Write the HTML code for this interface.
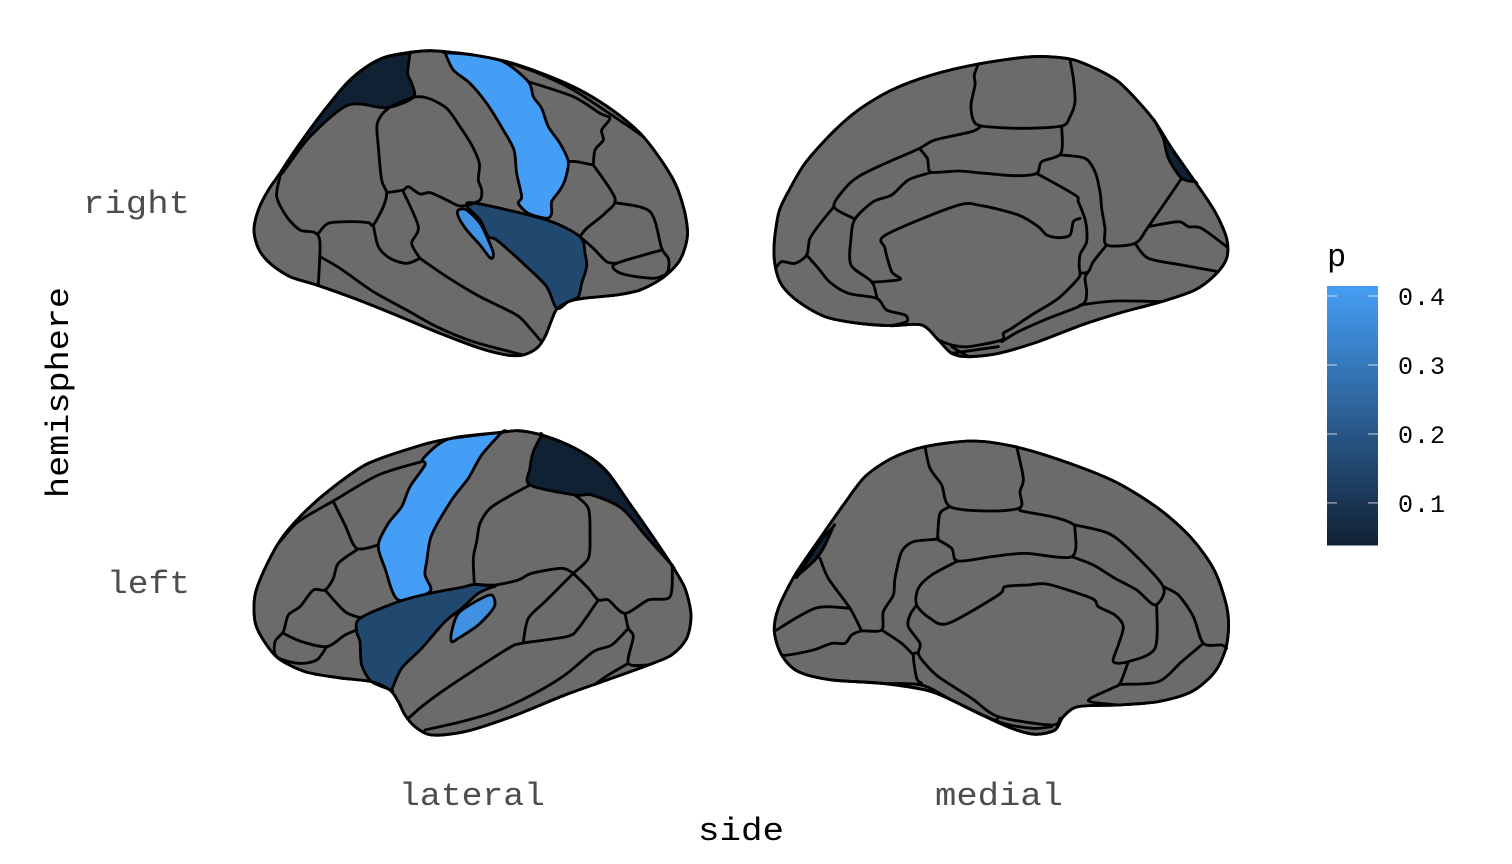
<!DOCTYPE html>
<html>
<head>
<meta charset="utf-8">
<title>Brain atlas p-values</title>
<style>
html,body{margin:0;padding:0;background:#fff;width:1512px;height:864px;overflow:hidden}
svg{display:block}
text{font-family:"Liberation Mono",monospace}
.axis{font-size:32px;fill:#4d4d4d}
.title{font-size:32px;fill:#000}
.leg{font-size:25px;fill:#000}
</style>
</head>
<body>
<svg id="chart" width="1512" height="864" viewBox="0 0 1512 864">
<g id="brains"></g>
<g id="legend"></g>
<text class="axis" x="83" y="213" textLength="107" lengthAdjust="spacingAndGlyphs">right</text>
<text class="axis" x="107" y="593" textLength="83" lengthAdjust="spacingAndGlyphs">left</text>
<text class="axis" x="399" y="805" textLength="146" lengthAdjust="spacingAndGlyphs">lateral</text>
<text class="axis" x="935" y="805" textLength="128" lengthAdjust="spacingAndGlyphs">medial</text>
<text class="title" x="698" y="840" textLength="86" lengthAdjust="spacingAndGlyphs">side</text>
<text class="title" transform="translate(68,498) rotate(-90)" textLength="211" lengthAdjust="spacingAndGlyphs">hemisphere</text>
<text class="title" x="1327" y="266">p</text>
</svg>
<script>
// ---- data ----
const legendTicks = [0.1, 0.2, 0.3, 0.4];
const pDomain = [0.039, 0.4145];
const regionNames = ['superior-parietal', 'precentral', 'supramarginal', 'insula', 'superior-parietal-medial'];
const rightLateralValues = [0.04, 0.4145, 0.155, 0.375];
const rightMedialValues = [0.04];
const leftLateralValues = [0.04, 0.4145, 0.155, 0.375];
const leftMedialValues = [0.04];

// ---- scale ----
const lowColour = [17, 33, 51];
const highColour = [69, 158, 245];
function colourScale(v) {
  const t = (v - pDomain[0]) / (pDomain[1] - pDomain[0]);
  const c = lowColour.map((l, i) => Math.round(l + (highColour[i] - l) * Math.max(0, Math.min(1, t))));
  return 'rgb(' + c.join(',') + ')';
}
const barTop = 286, barBottom = 545, barLeft = 1327, barWidth = 51;
function legendY(v) {
  return barBottom - (v - pDomain[0]) / (pDomain[1] - pDomain[0]) * (barBottom - barTop);
}

// ---- atlas geometry (anatomical outlines, panel units = 1/3 px) ----
const panels = [
 { name: 'right-lateral', ox: 240, oy: 40, values: rightLateralValues, regionIdx: [0, 1, 2, 3],
   outline: '570,32 615,35 700,45 800,65 900,98 1000,140 1080,185 1150,235 1210,290 1270,370 1310,440 1335,520 1342,590 1320,660 1270,712 1200,750 1130,765 1030,775 985,785 950,808 935,840 915,890 890,925 850,945 800,945 720,925 600,880 480,830 350,778 230,735 150,710 90,670 55,625 42,570 55,510 85,450 120,400 180,310 250,215 320,130 380,80 440,50 510,37',
   regions: [
    '510,40 510,40 440,50 380,80 320,130 250,215 180,310 120,400 130,395 210,290 325,195 440,203 520,172 515,130 503,100',
    '615,38 615,38 700,45 790,65 865,125 880,170 905,205 925,260 960,310 985,365 975,420 960,450 935,485 935,520 920,535 865,520 835,490 845,470 830,400 822,330 790,270 740,190 690,130 640,90',
    '680,497 710,490 920,540 1020,590 1035,640 1040,680 1025,730 1015,770 985,785 950,805 920,740 860,680 770,600 745,590 720,540',
    '655,510 680,510 720,550 745,600 760,640 752,655 720,615 680,570 655,530'
   ],
   lines: [
    '120,410 110,470 140,530 180,570 225,578 240,610 235,735',
    '235,580 265,550 330,545 385,548 400,555 430,500 440,458 425,420 415,320 412,250 445,205 520,172 565,175 620,205 660,260 695,315 718,370 715,420 725,450 720,480 680,497',
    '440,458 490,450 505,440 540,462 570,458 620,480 655,497 680,497',
    '400,555 415,620 450,655 500,670 540,655',
    '540,655 515,610 535,560 490,455',
    '240,650 300,685 400,755 500,810 590,860 700,905 850,945',
    '540,655 620,710 720,770 830,825 870,865 900,900',
    '865,125 1000,170 1080,220 1110,235 1085,270 1090,300 1065,330 1060,375',
    '1060,375 1010,365 985,365',
    '1060,375 1125,475 1095,520 1040,565 1020,590',
    '1125,488 1230,515 1265,625 1285,655 1285,690 1270,712',
    '1265,630 1130,670 1125,690 1160,705 1240,715 1275,705',
    '1130,670 1100,665 1060,625 1020,590',
    '800,65 900,102 1000,150 1100,215 1160,255 1210,290'
   ] },
 { name: 'right-medial', ox: 765, oy: 45, values: rightMedialValues, regionIdx: [4],
   outline: '800,35 915,42 990,70 1060,110 1120,170 1170,230 1220,310 1290,410 1350,500 1385,580 1385,640 1350,690 1290,735 1190,770 1060,805 950,840 820,890 700,925 610,935 560,925 520,885 470,840 380,842 280,835 180,815 100,770 50,720 30,660 28,590 42,500 70,440 120,355 200,265 280,195 380,135 500,90 640,57',
   regions: ['1170,230 1170,230 1220,310 1290,410 1290,410 1250,400 1210,340 1195,280'],
   lines: [
    '640,57 628,90 630,120 618,180 625,225 650,243 770,250 890,243 915,215 930,170 925,100 915,45',
    '650,243 620,260 510,285 460,312 350,360 280,395 240,430 207,485 270,522',
    '890,243 888,325 830,350 815,385 750,392 660,385 580,378 500,382 490,360 487,340 465,312',
    '888,330 960,340 990,380 1005,440 1010,490 1020,550 1025,600 1110,595 1150,545 1250,400',
    '1110,595 1150,640 1250,660 1360,680',
    '1150,545 1240,530 1270,545 1310,550 1385,605',
    '1025,600 985,650 970,680 945,680 945,630 965,590 962,530 940,470 930,450 815,385',
    '500,382 430,405 380,450 325,470 270,522 258,580 258,660 320,710 335,755',
    '207,485 170,530 135,580 125,630 90,655 50,650 32,670',
    '125,630 160,670 195,712 250,745 335,760 365,795 420,810 425,830 380,842',
    '320,712 405,703 380,680 360,610 362,570 575,482 650,482 760,510 820,545 845,570 880,578 915,570 925,530 945,520',
    '970,680 960,700 965,745 950,780 850,820 760,860 710,890',
    '945,680 940,700 880,760 800,810 740,850 715,865 710,885 610,905 560,900 520,885',
    '945,780 1050,768 1190,770',
    '560,905 610,935',
    '560,925 700,905'
   ] },
 { name: 'left-lateral', ox: 245, oy: 425, values: leftLateralValues, regionIdx: [0, 1, 2, 3],
   outline: '770,22 820,17 890,30 970,60 1040,100 1090,145 1150,230 1220,330 1280,420 1320,490 1338,570 1325,640 1280,690 1210,720 1100,760 960,810 800,875 660,920 560,930 510,905 480,870 460,830 435,795 380,770 280,758 180,740 100,700 55,645 30,590 30,510 60,430 110,340 180,260 260,190 370,115 530,60 610,42 700,30',
   regions: [
    '890,30 890,30 970,60 1040,100 1090,145 1150,230 1220,330 1280,420 1280,420 1200,330 1130,250 1040,210 990,210 855,180 855,130 865,80',
    '770,22 770,22 610,42 535,100 540,120 495,185 470,245 430,295 400,360 420,430 460,525 555,500 540,450 545,410 560,330 620,225 670,160 710,90',
    '345,580 460,530 555,505 650,487 690,478 745,485 745,485 700,505 650,550 600,590 530,670 470,730 440,795 440,795 380,770 350,720 345,650 335,620',
    '700,525 740,510 748,545 700,600 640,640 620,650 620,620 640,565'
   ],
   lines: [
    '855,180 790,215 735,250 705,295 695,350 685,400 688,478',
    '690,478 750,480 820,465 860,445 950,430 985,445',
    '990,210 1030,250 1035,330 1030,400 985,445 960,470 900,530 850,580 835,650',
    '985,445 1030,490 1060,525 1090,525 1140,565 1210,525 1275,515 1282,420',
    '1060,525 1000,610 965,635 830,655 790,670 680,740 590,800 530,845 490,880',
    '1140,565 1150,610 1165,635 1150,715 1210,720',
    '1150,610 1100,660 1045,680 960,750 860,810 750,860 650,890 540,915',
    '1150,715 1090,750 1050,778',
    '530,110 400,150 270,225 160,290 105,350',
    '265,230 300,300 335,370 400,360',
    '335,375 280,415 265,460 240,495 205,495 165,545 130,570 115,620 90,650 95,695 160,715 215,705 245,665',
    '115,625 170,650 245,665 300,630 335,615',
    '240,495 300,560 345,578'
   ] },
 { name: 'left-medial', ox: 765, oy: 435, values: leftMedialValues, regionIdx: [4],
   outline: '620,18 750,35 900,80 1050,140 1180,220 1280,310 1350,410 1388,530 1385,630 1350,710 1280,770 1180,800 1060,810 940,815 895,845 870,885 810,898 740,880 640,835 500,770 350,745 200,735 100,710 50,660 28,590 40,520 90,420 165,310 235,210 300,125 380,70 480,35',
   regions: ['205,275 205,275 175,340 150,375 100,420 100,420 165,320'],
   lines: [
    '480,35 495,100 530,150 555,215 670,228 765,218 765,170 775,130 755,35',
    '555,215 525,235 518,300 515,312 445,320 410,350 390,430 385,480 355,530 350,585 290,588 260,600 240,625 200,625 145,645 70,660 50,660',
    '515,312 560,340 578,378 680,365 780,355 920,365 930,285 920,265 860,245 770,228 765,218',
    '578,378 500,420 460,460 455,510 495,550 550,565 700,480 720,455 790,450 850,448 980,490 1000,515 1050,540 1075,575 1060,630 1045,680 1090,680 1170,640 1175,510',
    '920,365 985,390 1050,430 1115,465 1170,510 1195,455 1100,350 1030,295 930,270',
    '1195,455 1240,480 1285,545 1315,625 1370,630 1385,640',
    '1315,625 1250,680 1180,740 1065,748',
    '1090,680 1065,745 1040,760 970,797 1060,810',
    '455,510 435,540 430,575 465,625 460,655 475,680 520,725 620,790 700,845 860,870 885,850',
    '460,655 445,660 455,730 470,745',
    '350,585 410,625 445,660',
    '290,588 255,520 190,430 165,370',
    '255,520 190,515 150,520 100,545 35,585',
    '200,735 350,745 470,750 560,795 700,860 800,880 860,875',
    '700,845 695,855'
   ] }
];

// ---- drawing ----
const NS = 'http://www.w3.org/2000/svg';
function parsePts(s) { return s.trim().split(/\s+/).map(p => p.split(',').map(Number)); }
function smoothPath(s, closed) {
  const p = parsePts(s), n = p.length;
  const at = i => closed ? p[(i + n) % n] : p[Math.max(0, Math.min(n - 1, i))];
  let d = 'M' + p[0][0] + ' ' + p[0][1];
  const last = closed ? n : n - 1;
  for (let i = 0; i < last; i++) {
    const a = at(i - 1), b = at(i), c = at(i + 1), e = at(i + 2);
    d += 'C' + (b[0] + (c[0] - a[0]) / 7).toFixed(1) + ' ' + (b[1] + (c[1] - a[1]) / 7).toFixed(1) + ' ' +
         (c[0] - (e[0] - b[0]) / 7).toFixed(1) + ' ' + (c[1] - (e[1] - b[1]) / 7).toFixed(1) + ' ' + c[0] + ' ' + c[1];
  }
  return d + (closed ? 'Z' : '');
}
const brains = document.getElementById('brains');
panels.forEach(function (panel) {
  const g = document.createElementNS(NS, 'g');
  g.setAttribute('transform', 'translate(' + panel.ox + ',' + panel.oy + ') scale(0.33333)');
  
  
  g.setAttribute('stroke', '#000');
  g.setAttribute('stroke-width', '8.5');
  g.setAttribute('stroke-linejoin', 'round');
  g.setAttribute('stroke-linecap', 'round');
  brains.appendChild(g);

  const base = document.createElementNS(NS, 'path');
  base.setAttribute('d', smoothPath(panel.outline, true));
  base.setAttribute('fill', '#6b6b6b');
  
  
  g.appendChild(base);

  panel.regions.forEach(function (r, i) {
    const path = document.createElementNS(NS, 'path');
    path.setAttribute('d', smoothPath(r, true));
    path.setAttribute('fill', colourScale(panel.values[i]));
    
    
    g.appendChild(path);
  });

  panel.lines.forEach(function (l) {
    const line = document.createElementNS(NS, 'path');
    line.setAttribute('d', smoothPath(l, false));
    line.setAttribute('fill', 'none');
    
    
    g.appendChild(line);
  });

  const edge = document.createElementNS(NS, 'path');
  edge.setAttribute('d', smoothPath(panel.outline, true));
  edge.setAttribute('fill', 'none');
  
  
  g.appendChild(edge);
});

const legend = document.getElementById('legend');
const bins = 52;
for (let i = 0; i < bins; i++) {
  const v0 = pDomain[0] + (pDomain[1] - pDomain[0]) * i / bins;
  const v1 = pDomain[0] + (pDomain[1] - pDomain[0]) * (i + 1) / bins;
  const rect = document.createElementNS(NS, 'rect');
  rect.setAttribute('x', barLeft);
  rect.setAttribute('y', legendY(v1));
  rect.setAttribute('width', barWidth);
  rect.setAttribute('height', legendY(v0) - legendY(v1) + 0.5);
  rect.setAttribute('fill', colourScale((v0 + v1) / 2));
  
  
  legend.appendChild(rect);
}
legendTicks.forEach(function (t) {
  const y = legendY(t);
  [[barLeft, barLeft + 10], [barLeft + barWidth - 10, barLeft + barWidth]].forEach(function (seg) {
    const tick = document.createElementNS(NS, 'line');
    tick.setAttribute('x1', seg[0]);
    tick.setAttribute('x2', seg[1]);
    tick.setAttribute('y1', y);
    tick.setAttribute('y2', y);
    tick.setAttribute('stroke', '#fff');
    tick.setAttribute('stroke-opacity', '0.75');
    tick.setAttribute('stroke-width', '1');
    
    
    legend.appendChild(tick);
  });
  const label = document.createElementNS(NS, 'text');
  label.setAttribute('class', 'leg');
  label.setAttribute('x', 1398);
  label.setAttribute('y', y + 9);
  label.setAttribute('textLength', 47);
  
  
  label.textContent = t.toFixed(1);
  legend.appendChild(label);
});
</script>
</body>
</html>
